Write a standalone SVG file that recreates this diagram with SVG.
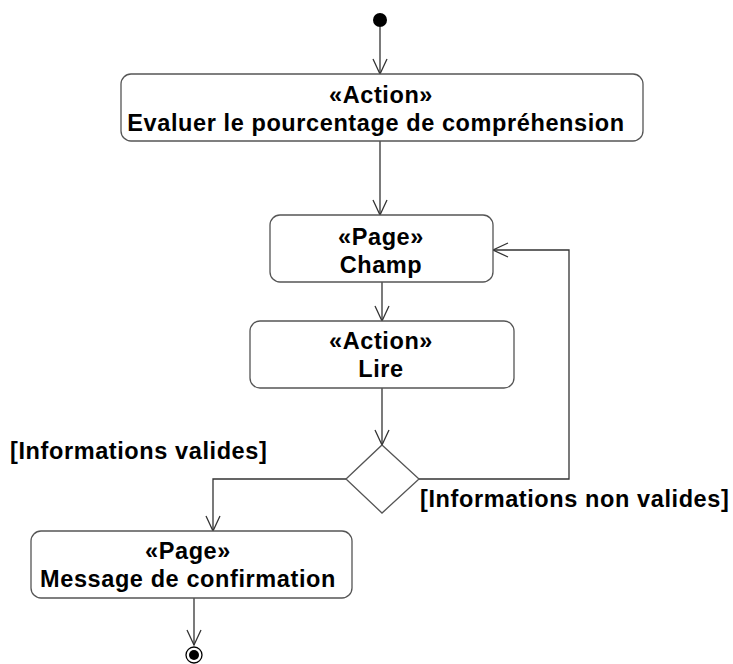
<svg xmlns="http://www.w3.org/2000/svg" width="733" height="664" viewBox="0 0 733 664">
<defs>
<style>
.box{fill:#fff;stroke:#555;stroke-width:1.3}
.t{font-family:"Liberation Sans",Arial,sans-serif;font-weight:bold;font-size:23.5px;letter-spacing:0.6px;fill:#000;text-anchor:middle}
.g{font-family:"Liberation Sans",Arial,sans-serif;font-weight:bold;font-size:23.5px;letter-spacing:0.6px;fill:#000}
.c{fill:none;stroke:#333;stroke-width:1.3}
</style>
<marker id="a" markerWidth="20" markerHeight="20" refX="16" refY="8" orient="auto" markerUnits="userSpaceOnUse">
<path d="M1,1 L16,8 L1,15" fill="none" stroke="#333" stroke-width="1.3"/>
</marker>
</defs>
<rect width="733" height="664" fill="#fff"/>
<g id="connectors">
<line class="c" x1="380" y1="27" x2="380" y2="74" marker-end="url(#a)"/>
<line class="c" x1="380" y1="141" x2="380" y2="215" marker-end="url(#a)"/>
<line class="c" x1="382" y1="282" x2="382" y2="321" marker-end="url(#a)"/>
<line class="c" x1="382" y1="388" x2="382" y2="445" marker-end="url(#a)"/>
<polyline class="c" points="346,479 213,479 213,531" marker-end="url(#a)"/>
<polyline class="c" points="419,479 569,479 569,250 493,250" marker-end="url(#a)"/>
<line class="c" x1="194" y1="598" x2="194" y2="645" marker-end="url(#a)"/>
</g>
<g id="initial"><circle cx="380" cy="20" r="7" fill="#000"/></g>
<g id="evaluer">
<rect class="box" x="121" y="74" width="522" height="67" rx="10"/>
<text class="t" x="381" y="103">«Action»</text>
<text class="t" x="376" y="131">Evaluer le pourcentage de compréhension</text>
</g>
<g id="champ">
<rect class="box" x="270" y="215" width="223" height="67" rx="10"/>
<text class="t" x="381" y="245">«Page»</text>
<text class="t" x="381" y="273">Champ</text>
</g>
<g id="lire">
<rect class="box" x="250" y="321" width="264" height="67" rx="10"/>
<text class="t" x="381" y="349">«Action»</text>
<text class="t" x="381" y="377">Lire</text>
</g>
<g id="decision">
<polygon points="382,445 419,479 382,513 346,479" fill="#fff" stroke="#555" stroke-width="1.3"/>
</g>
<g id="guards">
<text class="g" x="10" y="459">[Informations valides]</text>
<text class="g" x="420" y="507">[Informations non valides]</text>
</g>
<g id="confirmation">
<rect class="box" x="31" y="531" width="321" height="67" rx="10"/>
<text class="t" x="188" y="559">«Page»</text>
<text class="t" x="188" y="587">Message de confirmation</text>
</g>
<g id="final">
<circle cx="194" cy="655" r="8" fill="#fff" stroke="#000" stroke-width="1.3"/>
<circle cx="194" cy="655" r="5" fill="#000"/>
</g>
</svg>
